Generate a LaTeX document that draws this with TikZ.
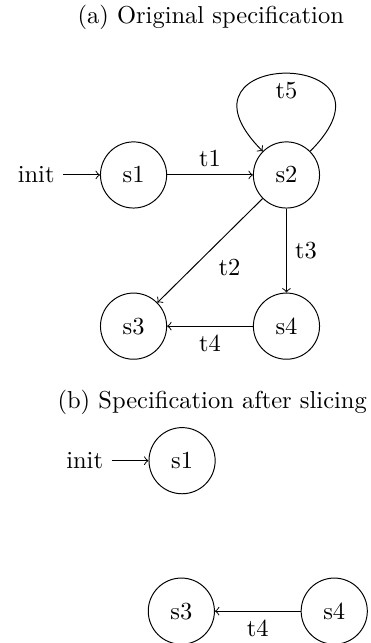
\documentclass[tikz,border=0pt]{standalone}
\usepackage{tikz}
\usetikzlibrary{positioning}

\begin{document}
\begin{tikzpicture}[>=to, auto,
    st/.style={circle, draw, minimum size=27pt, inner sep=0pt},
    subcap/.style={inner sep=0pt}]
  \useasboundingbox (0,0) rectangle (151pt,-262.4pt);

  % (a) the original specification.
  \node[subcap] (capa) at (86pt,-7pt) {(a) Original specification};
  \node[st] (s1) at (54.5pt,-71.4pt) {s1};
  \node[st, right=35pt of s1] (s2) {s2};
  \node[st, below=34.3pt of s1] (s3) {s3};
  \node[st, below=34.3pt of s2] (s4) {s4};
  \node[left=15pt of s1] (init1) {init};

  \draw[->] (init1) -- (s1);
  \draw[->] (s1) -- node {t1} (s2);
  \draw[->] (s2) to[out=45, in=135, distance=60pt] node[below] {t5} (s2);
  \draw[->] (s2) -- node {t2} (s3);
  \draw[->] (s2) -- node {t3} (s4);
  \draw[->] (s4) -- node {t4} (s3);

  % (b) what is left after slicing.
  \node[subcap] (capb) at (86.6pt,-164pt) {(b) Specification after slicing};
  \node[st] (s1b) at (74.3pt,-188pt) {s1};
  \node[left=15pt of s1b] (init2) {init};
  \node[st] (s3b) at (74pt,-249.4pt) {s3};
  \node[st, right=35pt of s3b] (s4b) {s4};

  \draw[->] (init2) -- (s1b);
  \draw[->] (s4b) -- node {t4} (s3b);
\end{tikzpicture}
\end{document}
